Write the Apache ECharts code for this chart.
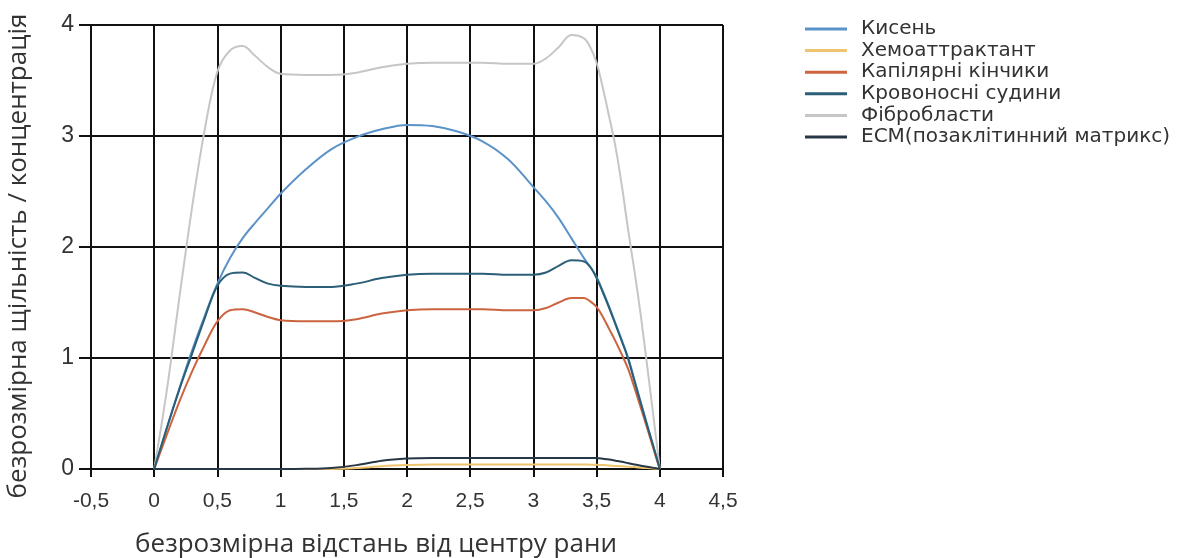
<!DOCTYPE html>
<html>
<head>
<meta charset="utf-8">
<script src="https://cdn.jsdelivr.net/npm/echarts@6/dist/echarts.min.js"></script>
<style>
html,body{margin:0;padding:0;background:#fff;}
#chart{width:1181px;height:558px;}
</style>
</head>
<body>
<div id="chart"></div>
<script>
// ---- data ----
const xs = [0, 0.1, 0.2, 0.3, 0.4, 0.5, 0.6, 0.7, 0.8, 0.9, 1.0, 1.2, 1.4, 1.6, 1.8, 2.0, 2.2, 2.4, 2.6, 2.8, 3.0, 3.1, 3.2, 3.3, 3.4, 3.45, 3.5, 3.55, 3.6, 3.65, 3.7, 3.75, 3.8, 3.85, 3.9, 3.95, 4.0];
const seriesNames = ['Кисень', 'Хемоаттрактант', 'Капілярні кінчики', 'Кровоносні судини', 'Фібробласти', 'ЕСМ(позаклітинний матрикс)'];
const oxygen     = [0, 0.37, 0.73, 1.07, 1.38, 1.67, 1.9, 2.08, 2.22, 2.35, 2.48, 2.7, 2.88, 2.99, 3.06, 3.1, 3.09, 3.04, 2.95, 2.79, 2.54, 2.41, 2.26, 2.08, 1.9, 1.82, 1.73, 1.6, 1.46, 1.31, 1.16, 1.0, 0.8, 0.6, 0.4, 0.2, 0];
const chemo      = [0, 0, 0, 0, 0, 0, 0, 0, 0, 0, 0, 0, 0, 0.008, 0.025, 0.035, 0.04, 0.04, 0.04, 0.04, 0.04, 0.04, 0.04, 0.04, 0.04, 0.039, 0.038, 0.035, 0.032, 0.028, 0.025, 0.021, 0.017, 0.012, 0.008, 0.004, 0];
const capillary  = [0, 0.31, 0.61, 0.88, 1.12, 1.33, 1.43, 1.44, 1.41, 1.37, 1.34, 1.33, 1.33, 1.35, 1.4, 1.43, 1.44, 1.44, 1.44, 1.43, 1.43, 1.45, 1.5, 1.54, 1.54, 1.51, 1.46, 1.37, 1.26, 1.15, 1.03, 0.9, 0.73, 0.55, 0.37, 0.18, 0];
const vessels    = [0, 0.37, 0.72, 1.04, 1.36, 1.65, 1.76, 1.77, 1.72, 1.67, 1.65, 1.64, 1.64, 1.67, 1.72, 1.75, 1.76, 1.76, 1.76, 1.75, 1.75, 1.77, 1.83, 1.88, 1.87, 1.82, 1.72, 1.59, 1.45, 1.3, 1.15, 0.99, 0.79, 0.59, 0.39, 0.2, 0];
const fibro      = [0, 0.71, 1.55, 2.36, 3.06, 3.58, 3.77, 3.81, 3.72, 3.62, 3.56, 3.55, 3.55, 3.57, 3.62, 3.65, 3.66, 3.66, 3.66, 3.65, 3.65, 3.7, 3.8, 3.91, 3.88, 3.8, 3.66, 3.43, 3.17, 2.9, 2.55, 2.15, 1.78, 1.38, 0.93, 0.47, 0];
const ecm        = [0, 0, 0, 0, 0, 0, 0, 0, 0, 0, 0, 0.002, 0.01, 0.035, 0.075, 0.095, 0.1, 0.1, 0.1, 0.1, 0.1, 0.1, 0.1, 0.1, 0.1, 0.1, 0.098, 0.092, 0.085, 0.075, 0.065, 0.052, 0.04, 0.03, 0.02, 0.01, 0];
const xTicks = { min: -0.5, max: 4.5, step: 0.5 };
const yTicks = { min: 0, max: 4, step: 1 };
const xTitle = 'безрозмірна відстань від центру рани';
const yTitle = 'безрозмірна щільність / концентрація';

const colors = ['#5b93c9', '#eec46e', '#cc6440', '#2b5f77', '#c6c6c6', '#283746'];
const allValues = [oxygen, chemo, capillary, vessels, fibro, ecm];

const chart = echarts.init(document.getElementById('chart'));
const fmt = v => String(v).replace('.', ',');

const series = seriesNames.map((name, i) => ({
  name: name,
  type: 'line',
  data: xs.map((x, k) => [x, allValues[i][k]]),
  smooth: 0.35,
  showSymbol: false,
  symbol: 'none',
  lineStyle: { color: colors[i], width: 2 },
  itemStyle: { color: colors[i] },
  z: 3 + (i === 4 ? 0 : 1)
}));

chart.setOption({
  animation: false,
  backgroundColor: '#ffffff',
  color: colors,
  grid: { left: 91, right: 458, top: 25, bottom: 89, containLabel: false },
  legend: {
    orient: 'vertical',
    left: 800,
    top: 14,
    icon: 'rect',
    itemWidth: 42,
    itemHeight: 3,
    itemGap: 1.6,
    textStyle: { fontFamily: 'DejaVu Sans', fontSize: 20, color: '#333', padding: [0, 0, 0, 9] },
    data: seriesNames
  },
  xAxis: {
    type: 'value',
    min: xTicks.min,
    max: xTicks.max,
    interval: xTicks.step,
    axisLine: { show: true, onZero: false, lineStyle: { color: '#111', width: 2 } },
    axisTick: { show: true, length: 8, lineStyle: { color: '#111', width: 2 } },
    axisLabel: { formatter: fmt, fontFamily: 'Liberation Sans', fontSize: 21, color: '#333', margin: 22 },
    splitLine: { show: true, lineStyle: { color: '#111', width: 2 } }
  },
  yAxis: {
    type: 'value',
    min: yTicks.min,
    max: yTicks.max,
    interval: yTicks.step,
    axisLine: { show: true, onZero: false, lineStyle: { color: '#111', width: 2 } },
    axisTick: { show: true, length: 12, lineStyle: { color: '#111', width: 2 } },
    axisLabel: { formatter: fmt, fontFamily: 'Liberation Sans', fontSize: 23, color: '#333', margin: 17 },
    splitLine: { show: true, lineStyle: { color: '#111', width: 2 } }
  },
  graphic: [
    {
      type: 'text',
      x: 376, y: 545,
      style: { text: xTitle, fontFamily: 'Open Sans', fontSize: 26, fill: '#333', align: 'center', verticalAlign: 'middle' }
    },
    {
      type: 'text',
      x: 19, y: 256,
      rotation: Math.PI / 2,
      style: { text: yTitle, fontFamily: 'Open Sans', fontSize: 26, fill: '#333', align: 'center', verticalAlign: 'middle' }
    }
  ],
  series: series
});
</script>
</body>
</html>
